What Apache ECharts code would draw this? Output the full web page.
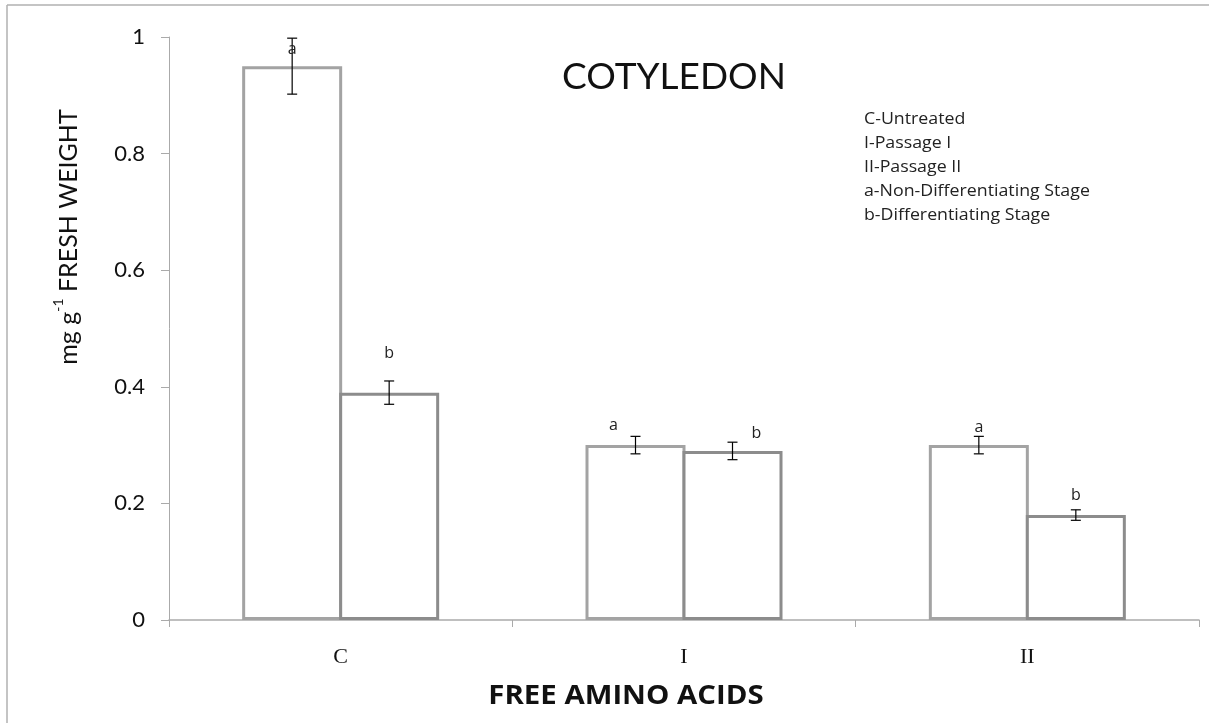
<!DOCTYPE html>
<html>
<head>
<meta charset="utf-8">
<script src="https://cdn.jsdelivr.net/npm/echarts@6/dist/echarts.min.js"></script>
<style>html,body{margin:0;padding:0;background:#fff;}#main{width:1209px;height:723px;}</style>
</head>
<body>
<div id="main"></div>
<script>
var categories = ['C', 'I', 'II'];
var valuesA = [0.95, 0.30, 0.30];
var valuesB = [0.39, 0.29, 0.18];
var errorsA = [0.048, 0.015, 0.015];
var errorsB = [0.020, 0.015, 0.009];
var lettersA = ['a', 'a', 'a'];
var lettersB = ['b', 'b', 'b'];
var letterPosA = [0.978, 0.333, 0.330];
var letterPosB = [0.458, 0.320, 0.213];
var yTicks = [0, 0.2, 0.4, 0.6, 0.8, 1];
var noteLines = ['C-Untreated', 'I-Passage I', 'II-Passage II', 'a-Non-Differentiating Stage', 'b-Differentiating Stage'];

var BAR_W = 100;
var letterDxA = [0, -22, 0];
var letterDxB = [0, 24, 0];

var chart = echarts.init(document.getElementById('main'));

function errData(vals, errs, letters, pos) {
  return vals.map(function (v, i) { return [i, v, errs[i], letters[i], pos[i]]; });
}

function makeRender(side, dxArr) {
  return function (params, api) {
    var i = api.value(0);
    var v = api.value(1);
    var e = api.value(2);
    var base = api.coord([i, v]);
    var x = base[0] + side * (BAR_W - 3) / 2;
    var top = api.coord([i, v + e])[1];
    var bot = api.coord([i, v - e])[1];
    var ly = api.coord([i, api.value(4)])[1];
    var cap = 5;
    var st = { stroke: '#000', lineWidth: 1.2 };
    return {
      type: 'group',
      children: [
        { type: 'line', shape: { x1: x, y1: top, x2: x, y2: bot }, style: st },
        { type: 'line', shape: { x1: x - cap, y1: top, x2: x + cap, y2: top }, style: st },
        { type: 'line', shape: { x1: x - cap, y1: bot, x2: x + cap, y2: bot }, style: st },
        { type: 'text', style: { text: (side < 0 ? lettersA : lettersB)[i], x: x + dxArr[i], y: ly,
          align: 'center', verticalAlign: 'middle', font: '16px "Open Sans"', fill: '#222' } }
      ]
    };
  };
}

var option = {
  backgroundColor: '#fff',
  animation: false,
  grid: { left: 169, right: 10, top: 37, bottom: 103 },
  xAxis: {
    type: 'category',
    data: categories,
    axisLine: { lineStyle: { color: '#aaaaaa', width: 1.5 } },
    axisTick: { show: true, length: 7, lineStyle: { color: '#aaaaaa' } },
    axisLabel: { fontFamily: 'Liberation Serif', fontSize: 22, color: '#111', margin: 26 }
  },
  yAxis: {
    type: 'value',
    min: 0, max: 1, interval: 0.2,
    axisLine: { show: true, lineStyle: { color: '#aaaaaa', width: 1 } },
    axisTick: { show: true, length: 8, lineStyle: { color: '#aaaaaa' } },
    splitLine: { show: false },
    axisLabel: {
      fontFamily: 'Lato', fontSize: 22, color: '#111', margin: 24,
      formatter: function (v) {
        for (var k = 0; k < yTicks.length; k++) { if (Math.abs(yTicks[k] - v) < 1e-9) return String(yTicks[k]); }
        return '';
      }
    }
  },
  series: [
    {
      type: 'bar', data: valuesA, barWidth: BAR_W, barGap: '-3%',
      itemStyle: { color: '#fff', borderColor: '#a3a3a3', borderWidth: 3 }, z: 2
    },
    {
      type: 'bar', data: valuesB, barWidth: BAR_W, barGap: '-3%',
      itemStyle: { color: '#fff', borderColor: '#8c8c8c', borderWidth: 3 }, z: 3
    },
    {
      type: 'custom', renderItem: makeRender(-1, letterDxA),
      data: errData(valuesA, errorsA, lettersA, letterPosA), z: 10,
      encode: { x: 0, y: 1 }
    },
    {
      type: 'custom', renderItem: makeRender(1, letterDxB),
      data: errData(valuesB, errorsB, lettersB, letterPosB), z: 10,
      encode: { x: 0, y: 1 }
    }
  ],
  graphic: [
    { type: 'line', shape: { x1: 7, y1: 5, x2: 1209, y2: 5 }, style: { stroke: '#b0b0b0', lineWidth: 1.5 } },
    { type: 'line', shape: { x1: 7, y1: 5, x2: 7, y2: 723 }, style: { stroke: '#b0b0b0', lineWidth: 1.5 } },
    { type: 'text', x: 674, y: 77, style: { text: 'COTYLEDON', font: '37px Lato', fill: '#111', align: 'center', verticalAlign: 'middle' } },
    { type: 'text', x: 864, y: 107, scaleX: 1.11, style: { text: noteLines.join('\n'), font: '16px "Open Sans"', lineHeight: 24, fill: '#222', align: 'left', verticalAlign: 'top' } },
    { type: 'text', x: 626, y: 697, scaleX: 1.13, style: { text: 'FREE AMINO ACIDS', font: 'bold 26px "Open Sans"', fill: '#111', align: 'center', verticalAlign: 'middle' } },
    { type: 'text', x: 66, y: 237, rotation: Math.PI / 2,
      style: {
        text: '{n|mg g}{s|-1}{n| FRESH WEIGHT}',
        align: 'center', verticalAlign: 'middle',
        rich: {
          n: { font: '25px Lato', fill: '#111', verticalAlign: 'bottom', lineHeight: 30 },
          s: { font: '14px Lato', fill: '#111', verticalAlign: 'top', lineHeight: 30, padding: [0, 0, 14, 0] }
        }
      }
    }
  ]
};
chart.setOption(option);
</script>
</body>
</html>
